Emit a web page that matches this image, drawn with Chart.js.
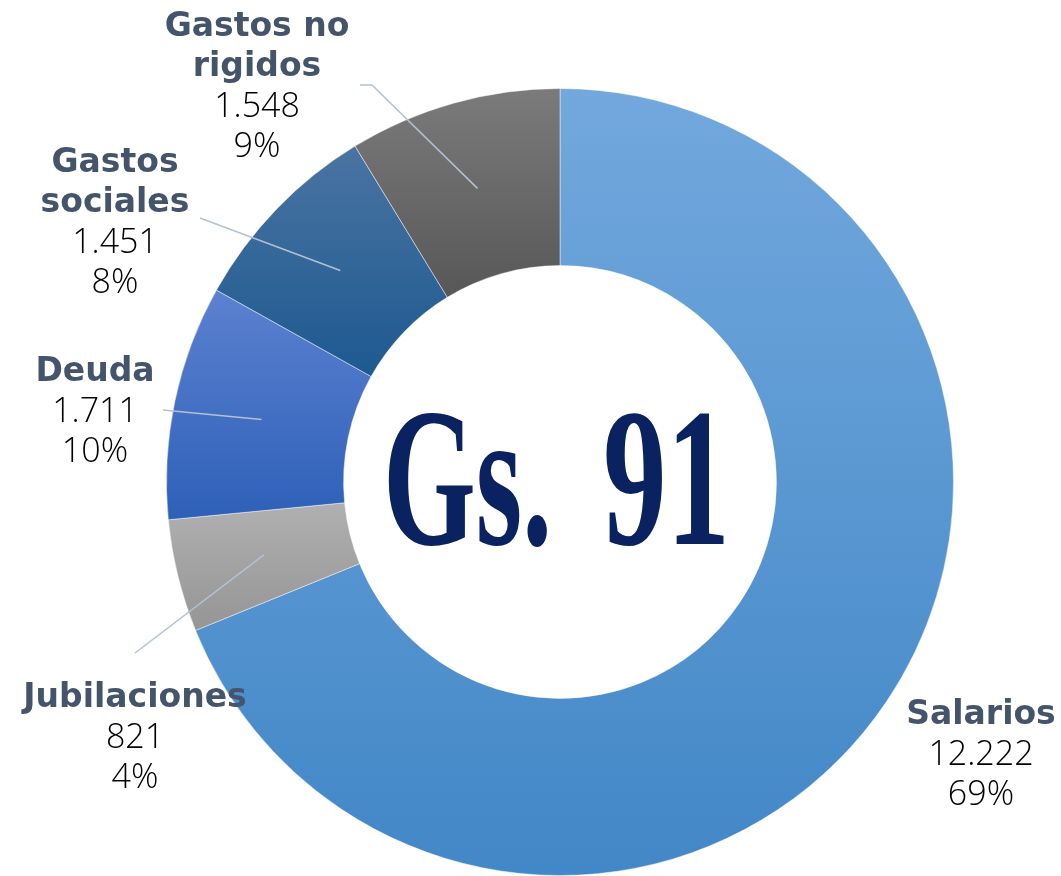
<!DOCTYPE html>
<html>
<head>
<meta charset="utf-8">
<script src="https://cdn.jsdelivr.net/npm/chart.js"></script>
<style>
  html, body { margin: 0; padding: 0; background: #fff; overflow: hidden; }
  #wrap { width: 1061px; height: 876px; position: relative; }
</style>
</head>
<body>
<div id="wrap"><canvas id="myChart"></canvas></div>
<script>
// data
var categories = ["Salarios", "Jubilaciones", "Deuda", "Gastos sociales", "Gastos no rigidos"];
var values = [12222, 821, 1711, 1451, 1548];
var percents = ["69%", "4%", "10%", "8%", "9%"];
var centerWords = ["Gs.", "91"];

// label text split over lines, and where to put it
var nameLines = [["Salarios"], ["Jubilaciones"], ["Deuda"], ["Gastos", "sociales"], ["Gastos no", "rigidos"]];
var labelX = [981, 135, 95, 115, 257];
var labelTopY = [715, 698, 372, 163, 27];
var leaderStart = [null, [135, 653], [163, 410], [[200, 218]], [[360, 85], [372, 85]]];

// center words: horizontal span relative to donut center
var wordSpans = [[-177, -8], [43, 170]];

// gradient colours for each slice (top, bottom)
var topColors = ["#72a8dd", "#b0b0b0", "#5c81d0", "#4a74a2", "#7b7b7b"];
var bottomColors = ["#4287c7", "#959595", "#2e60b8", "#1d5990", "#575757"];

var cutoutPct = 0.55;

function fmt(n) {
  return n.toString().replace(/\B(?=(\d{3})+(?!\d))/g, ".");
}

function sliceBox(chart, i) {
  var ca = chart.chartArea;
  var cx = (ca.left + ca.right) / 2, cy = (ca.top + ca.bottom) / 2;
  var R = Math.min(ca.right - ca.left, ca.bottom - ca.top) / 2;
  var r = R * cutoutPct;
  var total = values.reduce(function (a, b) { return a + b; }, 0);
  var before = 0;
  for (var k = 0; k < i; k++) before += values[k];
  var a0 = -Math.PI / 2 + 2 * Math.PI * before / total;
  var a1 = a0 + 2 * Math.PI * values[i] / total;
  var minY = Infinity, maxY = -Infinity;
  for (var s = 0; s <= 60; s++) {
    var a = a0 + (a1 - a0) * s / 60;
    [R, r].forEach(function (rad) {
      var y = cy + Math.sin(a) * rad;
      minY = Math.min(minY, y);
      maxY = Math.max(maxY, y);
    });
  }
  return [minY, maxY];
}

function sliceColor(context) {
  var chart = context.chart;
  var i = context.dataIndex;
  if (!chart.chartArea) return topColors[i];
  var box = sliceBox(chart, i);
  var g = chart.ctx.createLinearGradient(0, box[0], 0, box[1]);
  g.addColorStop(0, topColors[i]);
  g.addColorStop(1, bottomColors[i]);
  return g;
}

var labelPlugin = {
  id: "donutLabels",
  afterDatasetsDraw: function (chart) {
    var ctx = chart.ctx;
    var meta = chart.getDatasetMeta(0);

    // center text, each word fitted to its span
    var arc0 = meta.data[0];
    var cx = arc0.x, cy = arc0.y;
    centerWords.forEach(function (word, i) {
      ctx.save();
      ctx.fillStyle = "#0b2260";
      ctx.font = "bold 198px 'Liberation Serif'";
      ctx.textBaseline = "alphabetic";
      ctx.textAlign = "left";
      var w = ctx.measureText(word).width;
      var span = wordSpans[i];
      ctx.translate(cx + span[0], cy + 62);
      ctx.scale((span[1] - span[0]) / w, 1);
      ctx.fillText(word, 0, 0);
      ctx.restore();
    });

    meta.data.forEach(function (arc, i) {
      var p = arc.getProps(["x", "y", "startAngle", "endAngle", "innerRadius", "outerRadius"], true);
      var mid = (p.startAngle + p.endAngle) / 2;
      var rm = (p.innerRadius + p.outerRadius) / 2;
      var ex = p.x + Math.cos(mid) * rm, ey = p.y + Math.sin(mid) * rm;

      // leader line
      if (leaderStart[i]) {
        var pts = Array.isArray(leaderStart[i][0]) ? leaderStart[i] : [leaderStart[i]];
        ctx.save();
        ctx.strokeStyle = "#b3c1d3";
        ctx.lineWidth = 1.5;
        ctx.beginPath();
        ctx.moveTo(pts[0][0], pts[0][1]);
        for (var k = 1; k < pts.length; k++) ctx.lineTo(pts[k][0], pts[k][1]);
        ctx.lineTo(ex, ey);
        ctx.stroke();
        ctx.restore();
      }

      // text
      ctx.save();
      ctx.textAlign = "center";
      ctx.textBaseline = "middle";
      var y = labelTopY[i];
      ctx.fillStyle = "#44546a";
      ctx.font = "bold 33px 'DejaVu Sans'";
      nameLines[i].forEach(function (t) {
        ctx.fillText(t, labelX[i], y);
        y += 40;
      });
      ctx.fillStyle = "#000000";
      ctx.font = "300 34px 'Open Sans'";
      ctx.fillText(fmt(values[i]), labelX[i], y);
      y += 40;
      ctx.fillText(percents[i], labelX[i], y);
      ctx.restore();
    });
  }
};

new Chart("myChart", {
  type: "doughnut",
  data: {
    labels: categories,
    datasets: [{
      data: values,
      backgroundColor: sliceColor,
      borderColor: "rgba(255,255,255,0.45)",
      borderWidth: 1
    }]
  },
  options: {
    responsive: true,
    maintainAspectRatio: false,
    animation: false,
    cutout: "55%",
    layout: {
      padding: { left: 165, right: 106, top: 88, bottom: 0 }
    },
    plugins: {
      legend: { display: false },
      tooltip: { enabled: false }
    }
  },
  plugins: [labelPlugin]
});
</script>
</body>
</html>
